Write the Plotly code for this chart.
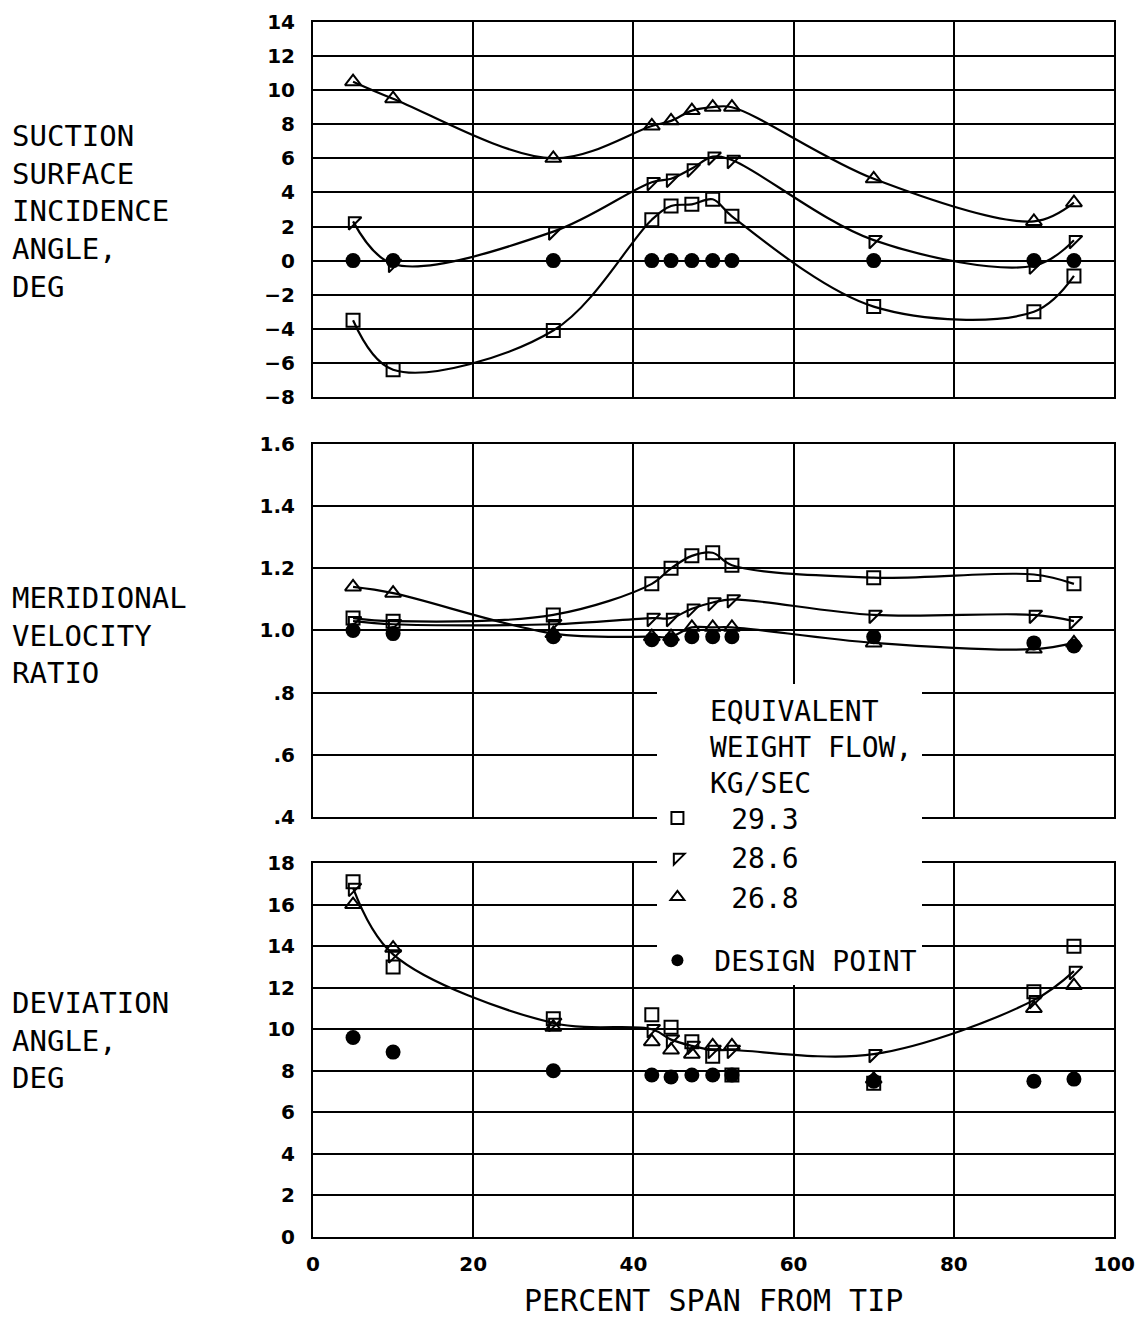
import plotly.graph_objects as go

# ---------------- data ----------------
span = [5, 10, 30, 42.3, 44.7, 47.3, 49.9, 52.3, 70, 90, 95]

incidence_293 = [-3.5, -6.4, -4.1, 2.4, 3.2, 3.3, 3.6, 2.6, -2.7, -3.0, -0.9]
incidence_286 = [2.3, -0.2, 1.7, 4.6, 4.8, 5.4, 6.1, 5.9, 1.2, -0.3, 1.2]
incidence_268 = [10.5, 9.5, 6.0, 7.9, 8.2, 8.8, 9.0, 9.0, 4.8, 2.3, 3.4]
incidence_design = [0, 0, 0, 0, 0, 0, 0, 0, 0, 0, 0]

mvr_293 = [1.04, 1.03, 1.05, 1.15, 1.20, 1.24, 1.25, 1.21, 1.17, 1.18, 1.15]
mvr_286 = [1.03, 1.02, 1.02, 1.04, 1.04, 1.07, 1.09, 1.10, 1.05, 1.05, 1.03]
mvr_268 = [1.14, 1.12, 0.99, 0.98, 0.98, 1.01, 1.01, 1.01, 0.96, 0.94, 0.96]
mvr_design = [1.0, 0.99, 0.98, 0.97, 0.97, 0.98, 0.98, 0.98, 0.98, 0.96, 0.95]

dev_293 = [17.1, 13.0, 10.5, 10.7, 10.1, 9.4, 8.7, 7.8, 7.4, 11.8, 14.0]
dev_286 = [16.8, 13.6, 10.3, 10.0, 9.5, 9.2, 9.0, 9.0, 8.8, 11.4, 12.8]
dev_268 = [16.0, 13.9, 10.1, 9.4, 9.0, 8.8, 9.2, 9.2, 7.6, 11.0, 12.1]
dev_design = [9.6, 8.9, 8.0, 7.8, 7.7, 7.8, 7.8, 7.8, 7.5, 7.5, 7.6]

flow_labels = ["29.3", "28.6", "26.8"]
design_label = "DESIGN POINT"
legend_title = "EQUIVALENT<br>WEIGHT FLOW,<br>KG/SEC"

x_ticks = [0, 20, 40, 60, 80, 100]
inc_ticks = [14, 12, 10, 8, 6, 4, 2, 0, -2, -4, -6, -8]
mvr_ticks = [1.6, 1.4, 1.2, 1.0, 0.8, 0.6, 0.4]
mvr_ticktext = ["1.6", "1.4", "1.2", "1.0", ".8", ".6", ".4"]
dev_ticks = [18, 16, 14, 12, 10, 8, 6, 4, 2, 0]

title_top = "SUCTION<br>SURFACE<br>INCIDENCE<br>ANGLE,<br>DEG"
title_mid = "MERIDIONAL<br>VELOCITY<br>RATIO"
title_bot = "DEVIATION<br>ANGLE,<br>DEG"
x_title = "PERCENT SPAN FROM TIP"

# ---------------- styling ----------------
BLACK = "black"
symbols = ["square-open", "triangle-nw-open", "triangle-up-open"]
sizes = [13, 14, 14]
MONO = "DejaVu Sans Mono"
NB = "\u00a0"

fig = go.Figure()

panels = [
    ("x", "y", [incidence_293, incidence_286, incidence_268], incidence_design, [True, True, True], True),
    ("x2", "y2", [mvr_293, mvr_286, mvr_268], mvr_design, [True, True, True], False),
    ("x3", "y3", [dev_293, dev_286, dev_268], dev_design, [False, True, False], False),
]

for xa, ya, series, design, with_line, show_leg in panels:
    for i, vals in enumerate(series):
        if with_line[i]:
            fig.add_trace(go.Scatter(
                x=span, y=vals, xaxis=xa, yaxis=ya, mode="lines",
                line=dict(color=BLACK, width=2.2, shape="spline", smoothing=1.0),
                showlegend=False, hoverinfo="skip"))
    for i, vals in enumerate(series):
        fig.add_trace(go.Scatter(
            x=span, y=vals, xaxis=xa, yaxis=ya, mode="markers",
            marker=dict(symbol=symbols[i], size=sizes[i], color=BLACK,
                        line=dict(color=BLACK, width=2)),
            name=NB * 2 + flow_labels[i], legendgroup="flow",
            showlegend=show_leg))
    fig.add_trace(go.Scatter(
        x=span, y=design, xaxis=xa, yaxis=ya, mode="markers",
        marker=dict(symbol="circle", size=15, color=BLACK),
        name=NB + design_label, legendgroup="design", showlegend=show_leg))

axis_common = dict(
    showgrid=True, gridcolor=BLACK, gridwidth=2,
    showline=True, linecolor=BLACK, linewidth=2, mirror=True,
    zeroline=False, ticks="",
)
tickfont = dict(family="DejaVu Sans", size=20, color=BLACK, weight="bold")

fig.update_layout(
    width=1140, height=1327,
    margin=dict(l=313, r=26, t=22, b=90, autoexpand=False),
    plot_bgcolor="white", paper_bgcolor="white",
    font=dict(family=MONO, color=BLACK),
    xaxis=dict(domain=[0, 1], anchor="y", range=[0, 100], tickvals=x_ticks,
               showticklabels=False, **axis_common),
    yaxis=dict(domain=[0.6914, 1], anchor="x", range=[-8, 14], tickvals=inc_ticks,
               tickfont=tickfont, ticklabelstandoff=12, **axis_common),
    xaxis2=dict(domain=[0, 1], anchor="y2", range=[0, 100], tickvals=x_ticks,
                showticklabels=False, **axis_common),
    yaxis2=dict(domain=[0.3457, 0.6527], anchor="x2", range=[0.4, 1.6], tickvals=mvr_ticks,
                ticktext=mvr_ticktext, tickfont=tickfont, ticklabelstandoff=12, **axis_common),
    xaxis3=dict(domain=[0, 1], anchor="y3", range=[0, 100], tickvals=x_ticks,
                tickfont=tickfont, ticklabelstandoff=8, **axis_common),
    yaxis3=dict(domain=[0, 0.3078], anchor="x3", range=[0, 18], tickvals=dev_ticks,
                tickfont=tickfont, ticklabelstandoff=12, **axis_common),
    legend=dict(
        x=0.43, y=0.455, xanchor="left", yanchor="top",
        bgcolor="white", borderwidth=0,
        font=dict(family=MONO, size=28, color=BLACK),
        title=dict(text=(NB * 3) + legend_title.replace("<br>", "<br>" + NB * 3) + NB,
                   font=dict(family=MONO, size=28, color=BLACK), side="top"),
        traceorder="grouped", tracegroupgap=24, itemsizing="constant",
    ),
)

ann_font = dict(family=MONO, size=29, color=BLACK)
for txt, yp in [(title_top, 0.844), (title_mid, 0.4947), (title_bot, 0.1621)]:
    fig.add_annotation(text=txt, xref="paper", yref="paper", x=-0.378, y=yp,
                       xanchor="left", yanchor="middle", align="left",
                       showarrow=False, font=ann_font)
fig.add_annotation(text=x_title, xref="paper", yref="paper", x=0.5, y=-0.052,
                   xanchor="center", yanchor="middle", showarrow=False,
                   font=dict(family=MONO, size=30, color=BLACK))

fig.write_html("out.html")
